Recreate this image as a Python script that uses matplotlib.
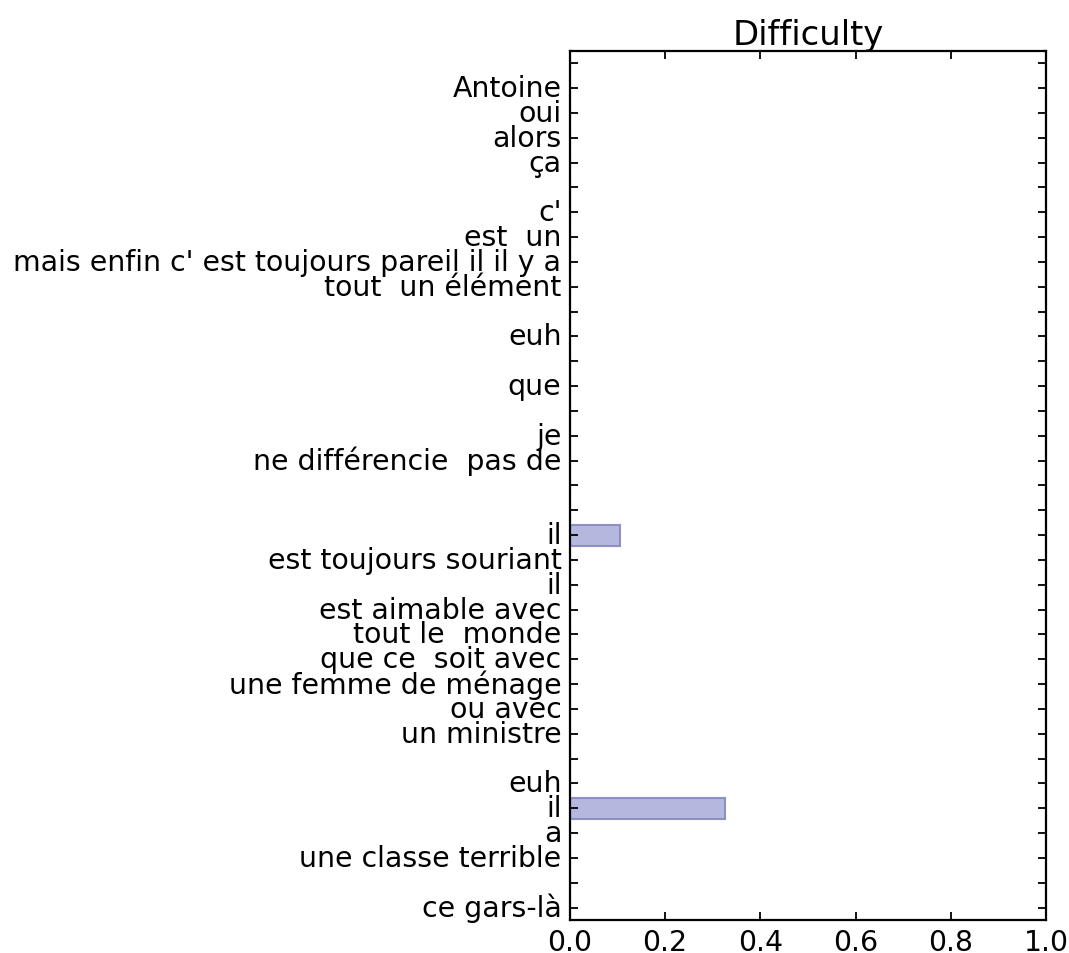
import matplotlib
matplotlib.use("Agg")
import matplotlib.pyplot as plt
import numpy as np

# Labels from top to bottom
labels_top_down = [
    "", "Antoine", "oui", "alors", "ça", "", "c'", "est  un",
    "mais enfin c' est toujours pareil il il y a", "tout  un élément", "",
    "euh", "", "que", "", "je", "ne différencie  pas de", "", "", "il",
    "est toujours souriant", "il", "est aimable avec", "tout le  monde",
    "que ce  soit avec", "une femme de ménage", "ou avec", "un ministre", "",
    "euh", "il", "a", "une classe terrible", "", "ce gars-là",
]
values_top_down = [
    0, 0, 0, 0, 0, 0, 0, 0, 0, 0, 0,
    0, 0, 0, 0, 0, 0, 0, 0, 0.105,
    0, 0, 0, 0, 0, 0, 0, 0, 0,
    0, 0.325, 0, 0, 0, 0,
]
xticks = [0.0, 0.2, 0.4, 0.6, 0.8, 1.0]

plt.style.use("classic")
fig = plt.figure(figsize=(10.69, 9.54), dpi=100)
ax = fig.add_axes([0.533, 0.0346, 0.4455, 0.911])

n = len(labels_top_down)
labels = labels_top_down[::-1]
values = values_top_down[::-1]
pos = np.arange(n)

ax.barh(pos, values, height=0.85, align="center",
        color=(0.71, 0.72, 0.87), edgecolor=(0.56, 0.56, 0.76), linewidth=1.5)

ax.set_yticks(pos)
ax.set_yticklabels(labels, fontsize=20.4)
ax.set_ylim(-0.5, n - 0.5)
ax.set_xlim(0, 1)
ax.set_xticks(xticks)
ax.set_xticklabels([f"{t:.1f}" for t in xticks], fontsize=20.4)
ax.tick_params(axis="both", which="major", direction="in", length=6, width=1.3,
               top=True, right=True)
ax.tick_params(axis="y", pad=6)
ax.tick_params(axis="x", pad=6)
for s in ax.spines.values():
    s.set_linewidth(1.6)
ax.set_title("Difficulty", fontsize=24.4, pad=5)

fig.savefig("out.png", dpi=100)
